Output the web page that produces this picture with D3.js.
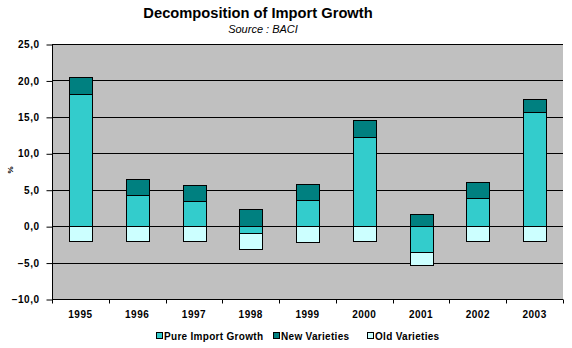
<!DOCTYPE html>
<html lang="en">
<head>
  <meta charset="utf-8">
  <title>Decomposition of Import Growth</title>
  <style>
    body { margin: 0; background: #fff; }
    text { font-family: "Liberation Sans", Arial, sans-serif; }
  </style>
</head>
<body>
  <script src="https://cdn.jsdelivr.net/npm/d3@7"></script>
  <script>
    var width = 572;
    var height = 348;

    // values in %, read per year
    var years = ["1995", "1996", "1997", "1998", "1999", "2000", "2001", "2002", "2003"];
    var pureGrowth = [18.2, 4.3, 3.4, -1.0, 3.6, 12.3, -3.5, 3.9, 15.6];
    var newVarieties = [2.3, 2.2, 2.2, 2.3, 2.2, 2.3, 1.7, 2.1, 1.8];
    var oldVarieties = [-2.0, -2.0, -2.1, -2.1, -2.2, -2.1, -1.8, -2.0, -2.0];
    var yTicks = [-10, -5, 0, 5, 10, 15, 20, 25];

    var keys = ["pure", "newv", "old"];
    var names = { pure: "Pure Import Growth", newv: "New Varieties", old: "Old Varieties" };
    var colors = { pure: "#33CCCC", newv: "#008080", old: "#CCFFFF" };

    var rows = years.map(function(y, i) {
      return { year: y, pure: pureGrowth[i], newv: newVarieties[i], old: oldVarieties[i] };
    });

    // plot area edges ("top" is taken by window.top)
    var plotL = 52, plotR = 563, plotT = 44, plotB = 299;

    var svg = d3.select("body").append("svg")
      .attr("width", width)
      .attr("height", height);

    var xScale = d3.scaleBand()
      .domain(years)
      .range([plotL, plotR])
      .paddingInner(0.6)
      .paddingOuter(0.3);

    var yScale = d3.scaleLinear()
      .domain([-10, 25])
      .range([plotB, plotT]);

    // grey plot area
    svg.append("rect")
      .attr("x", plotL)
      .attr("y", plotT)
      .attr("width", plotR - plotL)
      .attr("height", plotB - plotT)
      .attr("fill", "#C0C0C0");

    // gridlines
    svg.selectAll("line.grid")
      .data(yTicks.filter(function(d) { return d > -10; }))
      .enter()
      .append("line")
      .attr("class", "grid")
      .attr("x1", plotL)
      .attr("x2", plotR)
      .attr("y1", function(d) { return Math.round(yScale(d)) + 0.5; })
      .attr("y2", function(d) { return Math.round(yScale(d)) + 0.5; })
      .attr("stroke", "#000")
      .attr("stroke-width", 1);

    var stack = d3.stack()
      .keys(keys)
      .offset(d3.stackOffsetDiverging);
    var series = stack(rows);

    svg.selectAll("g.series")
      .data(series)
      .enter()
      .append("g")
      .attr("class", "series")
      .attr("fill", function(d) { return colors[d.key]; })
      .selectAll("rect")
      .data(function(d) { return d; })
      .enter()
      .append("rect")
      .attr("x", function(d) { return Math.round(xScale(d.data.year)) + 0.5; })
      .attr("width", Math.round(xScale.bandwidth()))
      .attr("y", function(d) { return Math.round(yScale(d[1])) + 0.5; })
      .attr("height", function(d) { return Math.round(yScale(d[0])) - Math.round(yScale(d[1])); })
      .attr("stroke", "#000")
      .attr("stroke-width", 1);

    // small bold labels, slightly spaced out
    function axisText(sel) {
      sel.attr("font-size", 10)
        .attr("font-weight", "bold")
        .attr("letter-spacing", 0.5)
        .attr("font-family", "Liberation Sans, Arial, sans-serif")
        .attr("fill", "#000");
    }

    // y axis
    var yAxis = d3.axisLeft(yScale)
      .tickValues(yTicks)
      .tickSize(6)
      .tickPadding(7)
      .tickFormat(function(d) { return d3.format(".1f")(d).replace(".", ","); });
    var gy = svg.append("g")
      .attr("transform", "translate(" + (plotL + 0.5) + ",0.5)")
      .call(yAxis);
    gy.select(".domain").attr("d", "M0," + plotT + "V" + plotB);
    gy.selectAll("text").call(axisText);

    // x axis: ticks sit between categories
    var xAxis = d3.axisBottom(xScale).tickSize(0).tickPadding(11);
    var gx = svg.append("g")
      .attr("transform", "translate(0," + (plotB + 0.5) + ")")
      .call(xAxis);
    gx.select(".domain").attr("d", "M" + plotL + ",0H" + plotR);
    gx.selectAll("text").call(axisText);
    gx.selectAll("line.sep")
      .data(d3.range(years.length + 1))
      .enter()
      .append("line")
      .attr("class", "sep")
      .attr("x1", function(i) { return Math.round(plotL + i * (plotR - plotL) / years.length) + 0.5; })
      .attr("x2", function(i) { return Math.round(plotL + i * (plotR - plotL) / years.length) + 0.5; })
      .attr("y1", 0)
      .attr("y2", 4)
      .attr("stroke", "#000");

    // titles
    svg.append("text")
      .attr("x", 258)
      .attr("y", 18)
      .attr("text-anchor", "middle")
      .attr("font-size", 14.7)
      .attr("font-weight", "bold")
      .text("Decomposition of Import Growth");
    svg.append("text")
      .attr("x", 263)
      .attr("y", 33)
      .attr("text-anchor", "middle")
      .attr("font-size", 11)
      .attr("font-style", "italic")
      .text("Source : BACI");

    svg.append("text")
      .attr("transform", "translate(13,170) rotate(-90)")
      .attr("text-anchor", "middle")
      .attr("font-size", 8)
      .attr("font-weight", "bold")
      .text("%");

    // legend
    var legendX = [156, 273, 367];
    var legend = svg.selectAll("g.legend")
      .data(keys)
      .enter()
      .append("g")
      .attr("class", "legend")
      .attr("transform", function(d, i) { return "translate(" + legendX[i] + ",332)"; });
    legend.append("rect")
      .attr("x", 0.5)
      .attr("y", 0.5)
      .attr("width", 6)
      .attr("height", 6)
      .attr("fill", function(d) { return colors[d]; })
      .attr("stroke", "#000");
    legend.append("text")
      .attr("x", 8)
      .attr("y", 7.5)
      .attr("font-size", 10)
      .attr("font-weight", "bold")
      .attr("letter-spacing", 0.3)
      .text(function(d) { return names[d]; });
  </script>
</body>
</html>
